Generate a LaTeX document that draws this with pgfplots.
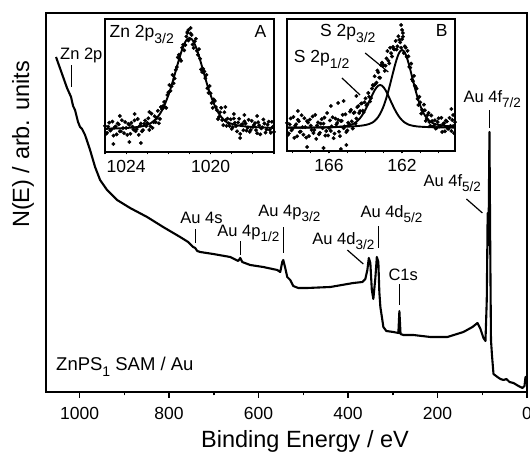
\documentclass[border=0pt]{standalone}
\usepackage{fontspec}
\setmainfont{Liberation Sans}
\usepackage{pgfplots}
\pgfplotsset{compat=1.18}
\newcommand{\fs}[1]{\fontsize{#1}{#1}\selectfont}
\newcommand{\sub}[1]{\raisebox{-5pt}{\fs{13.5}#1}}
\newcommand{\subi}[1]{\raisebox{-5.5pt}{\fs{14}#1}}
\tikzset{ann/.style={anchor=base west, inner sep=0pt, font=\fs{16.5}},
         ptr/.style={line width=1.2pt}}
\begin{document}
\begin{tikzpicture}
\useasboundingbox (-46pt,-62pt) rectangle (484pt,392pt);
% ---------------- main survey spectrum ----------------
\begin{axis}[
  at={(0pt,0pt)}, anchor=south west,
  scale only axis, width=481pt, height=379.3pt,
  x dir=reverse, xmin=0, xmax=1075, ymin=0, ymax=379.3,
  ytick=\empty,
  xtick={0,200,400,600,800,1000},
  minor xtick={100,300,500,700,900},
  xtick pos=bottom, ytick pos=left, tick align=outside,
  major tick length=6pt, minor tick length=3.5pt,
  tick style={black, line width=1.5pt},
  axis line style={line width=1.8pt},
  xticklabel style={font=\fs{17.5}, inner sep=0pt, yshift=-9pt},
  /pgf/number format/assume math mode=true,
  /pgf/number format/1000 sep={},
  clip=false,
]
\addplot[black, line width=2.1pt, line join=round] coordinates {
(1052.6,335)(1039.1,318)(1028.0,304)(1019.0,295)(1014.5,286)(1010.1,282)
(1003.4,270)(998.9,265)(994.4,263)(987.7,257)(976.5,242)(965.3,225)
(954.1,212)(938.5,202)(916.1,192)(887.0,184)(849.0,175)(813.2,165)
(775.2,155)(757.3,150)(746.1,145)(741.6,144)(737.1,141)(730.4,140)
(701.3,138)(663.3,135)(645.4,131)(640.9,134)(636.5,130)(618.6,127)
(589.5,125)(558.2,122)(551.5,120)(547.0,130)(544.7,132)(540.3,124)
(535.8,115)(529.1,112)(522.4,106)(511.2,104)(491.1,104)(439.6,105)
(388.1,109)(368.0,110)(361.3,113)(356.8,122)(353.5,134)(350.1,129)
(346.8,102)(343.4,93)(338.9,114)(335.6,135)(332.2,130)(330.0,100)
(327.7,85)(323.3,72)(321.0,65)(314.3,61)(298.7,60)(287.5,59)
(285.2,81)(282.6,58)(276.3,57)(253.9,57)(215.9,55)(177.9,55)
(142.1,60)(121.9,65)(110.7,69)(104.0,63)(97.3,54)(92.8,51)
(89.9,92)(87.9,179)(86.1,147)(83.9,260)(82.1,142)(80.5,52)
(78.3,37)(74.9,18)(66.0,15)(59.3,13)(52.6,12)(45.9,13)
(39.1,10)(30.2,9)(19.0,6)(10.1,4)(5.6,6)(3.4,15)(0,15)
};
% annotations
\node[ann] at (axis cs:1043.6,332) {Zn 2p};
\draw[ptr] (axis cs:1017.9,305) -- (axis cs:1017.9,327);
\node[ann] at (axis cs:775.2,168) {Au 4s};
\draw[ptr] (axis cs:740.5,149) -- (axis cs:740.5,163);
\node[ann] at (axis cs:692.4,155) {Au 4p\sub{1/2}};
\draw[ptr] (axis cs:640.9,137) -- (axis cs:640.9,151);
\node[ann] at (axis cs:600.7,175) {Au 4p\sub{3/2}};
\draw[ptr] (axis cs:544.7,139) -- (axis cs:544.7,165);
\node[ann] at (axis cs:479.9,147) {Au 4d\sub{3/2}};
\draw[ptr] (axis cs:401.6,142) -- (axis cs:365.8,128);
\node[ann] at (axis cs:372.5,174) {Au 4d\sub{5/2}};
\draw[ptr] (axis cs:331.5,144) -- (axis cs:331.5,166);
\node[ann] at (axis cs:309.8,111) {C1s};
\draw[ptr] (axis cs:284.6,87) -- (axis cs:284.6,108);
\node[ann] at (axis cs:231.5,205) {Au 4f\sub{5/2}};
\draw[ptr] (axis cs:135.3,193) -- (axis cs:99.6,179);
\node[ann] at (axis cs:142.1,289) {Au 4f\sub{7/2}};
\draw[ptr] (axis cs:83.9,264) -- (axis cs:83.9,282);
\node[anchor=base west, inner sep=0pt, font=\fs{18.5}] at (axis cs:1052.6,21) {ZnPS\subi{1} SAM / Au};
\end{axis}
% ---------------- inset A : Zn 2p3/2 ----------------
\begin{axis}[
  at={(59pt,240pt)}, anchor=south west,
  scale only axis, width=169pt, height=133pt,
  x dir=reverse, xmin=1017, xmax=1025, ymin=0, ymax=133,
  ytick=\empty, xtick={1020,1024}, minor xtick={1017,...,1025},
  xtick pos=bottom, ytick pos=left, tick align=outside,
  major tick length=2.5pt, minor tick length=2.5pt,
  tick style={black, line width=1.2pt},
  axis line style={line width=1.5pt},
  axis background/.style={fill=white},
  xticklabel style={font=\fs{17.5}, inner sep=0pt, yshift=-6pt},
  /pgf/number format/assume math mode=true,
  /pgf/number format/1000 sep={},
]
\addplot[only marks, mark=*, mark size=1.75pt, black] coordinates {
(1025.0,26.1)(1024.9,19.2)(1024.8,29.3)(1024.7,22.4)(1024.6,16.4)(1024.5,25.5)
(1024.4,28.6)(1024.3,20.7)(1024.2,31.8)(1024.1,18.9)(1024.0,24.0)(1023.9,28.1)
(1023.8,18.2)(1023.7,25.4)(1023.6,31.6)(1023.5,22.9)(1023.4,17.1)(1023.3,28.5)
(1023.2,21.9)(1023.1,31.5)(1023.0,29.2)(1022.9,22.1)(1022.8,38.3)(1022.7,29.8)
(1022.6,29.8)(1022.5,41.2)(1022.4,33.1)(1022.3,42.8)(1022.2,50.1)(1022.1,44.1)
(1022.0,59.8)(1021.9,61.2)(1021.8,77.1)(1021.7,73.5)(1021.6,84.9)(1021.5,97.3)
(1021.4,91.2)(1021.3,107.2)(1021.2,107.0)(1021.1,119.0)(1021.0,113.0)(1020.9,117.0)
(1020.8,104.0)(1020.7,113.2)(1020.6,97.2)(1020.5,93.3)(1020.4,79.9)(1020.3,80.5)
(1020.2,77.1)(1020.1,59.2)(1020.0,58.8)(1019.9,44.1)(1019.8,51.1)(1019.7,41.8)
(1019.6,35.1)(1019.5,44.2)(1019.4,26.8)(1019.3,31.8)(1019.2,33.3)(1019.1,26.1)
(1019.0,23.2)(1018.9,33.5)(1018.8,25.9)(1018.7,29.5)(1018.6,18.1)(1018.5,27.9)
(1018.4,30.6)(1018.3,21.4)(1018.2,32.2)(1018.1,22.1)(1018.0,25.0)(1017.9,28.9)
(1017.8,18.8)(1017.7,26.7)(1017.6,23.6)(1017.5,32.5)(1017.4,19.4)(1017.3,27.3)
(1017.2,22.2)(1017.1,30.2)(1017.0,20.1)
(1024.95,18.2)(1024.85,25.3)(1024.75,21.4)(1024.65,30.4)(1024.55,24.5)(1024.45,17.6)
(1024.35,27.7)(1024.25,20.8)(1024.15,23.9)(1024.05,30.0)(1023.95,17.1)(1023.85,27.2)
(1023.75,29.3)(1023.65,22.5)(1023.55,20.8)(1023.45,33.0)(1023.35,26.3)(1023.25,20.7)
(1023.15,28.2)(1023.05,25.9)(1022.95,33.7)(1022.85,25.7)(1022.75,24.1)(1022.65,35.8)
(1022.55,34.0)(1022.45,28.7)(1022.35,45.0)(1022.25,46.0)(1022.15,44.6)(1022.05,57.0)
(1021.95,67.0)(1021.85,65.7)(1021.75,68.8)(1021.65,82.2)(1021.55,94.6)(1021.45,92.8)
(1021.35,104.2)(1021.25,101.6)(1021.15,115.5)(1021.05,111.5)(1020.95,118.5)(1020.85,107.5)
(1020.75,110.6)(1020.65,101.2)(1020.55,102.8)(1020.45,82.6)(1020.35,83.2)(1020.25,73.8)
(1020.15,63.7)(1020.05,66.0)(1019.95,49.0)(1019.85,52.6)(1019.75,45.0)(1019.65,33.0)
(1019.55,39.7)(1019.45,32.0)(1019.35,39.8)(1019.25,26.1)(1019.15,28.7)(1019.05,32.7)
(1018.95,24.9)(1018.85,29.2)(1018.75,20.7)(1018.65,33.3)(1018.55,27.0)(1018.45,21.8)
(1018.35,28.5)(1018.25,24.3)(1018.15,20.2)(1018.05,31.1)(1017.95,27.0)(1017.85,21.9)
(1017.75,29.8)(1017.65,17.7)(1017.55,24.6)(1017.45,28.5)(1017.35,22.4)(1017.25,30.3)
(1017.15,19.2)(1017.05,25.2)
(1024.6,8)(1024.3,36)(1023.85,10)(1023.6,38)(1023.3,9)(1022.9,40)(1019.3,45)
(1018.9,38)(1018.4,37)(1018.6,14)(1017.8,36)(1020.95,124)(1021.05,122)(1021.1,120)
};
\addplot[black, line width=1.9pt, smooth] coordinates {
(1025.0,23.1)(1024.5,23.5)(1024.0,24.0)(1023.5,24.9)(1023.2,25.9)(1023.0,27.2)
(1022.8,29.3)(1022.6,32.8)(1022.4,38.1)(1022.2,46.1)(1022.0,56.8)(1021.9,63.2)
(1021.8,70.1)(1021.7,77.5)(1021.6,84.9)(1021.5,92.3)(1021.4,99.2)(1021.3,105.2)
(1021.2,110.0)(1021.1,113.0)(1021.0,114.0)(1020.9,113.0)(1020.8,110.0)(1020.7,105.2)
(1020.6,99.2)(1020.5,92.3)(1020.4,84.9)(1020.3,77.5)(1020.2,70.1)(1020.1,63.2)
(1020.0,56.8)(1019.8,46.1)(1019.6,38.1)(1019.4,32.8)(1019.2,29.3)(1019.0,28.2)
(1018.8,26.9)(1018.5,25.9)(1018.0,25.0)(1017.5,24.5)(1017.0,24.1)
};
\node[anchor=base west, inner sep=0pt, font=\fs{17.5}] at (axis cs:1024.79,114) {Zn 2p\subi{3/2}};
\node[anchor=base, inner sep=0pt, font=\fs{17.5}] at (axis cs:1017.64,114) {A};
\end{axis}
% ---------------- inset B : S 2p ----------------
\begin{axis}[
  at={(241pt,241pt)}, anchor=south west,
  scale only axis, width=168pt, height=132pt,
  x dir=reverse, xmin=159.1, xmax=168.3, ymin=0, ymax=132,
  ytick=\empty, xtick={162,166}, minor xtick={160,...,168},
  xtick pos=bottom, ytick pos=left, tick align=outside,
  major tick length=2.5pt, minor tick length=2.5pt,
  tick style={black, line width=1.2pt},
  axis line style={line width=1.5pt},
  axis background/.style={fill=white},
  xticklabel style={font=\fs{17.5}, inner sep=0pt, yshift=-6pt},
  /pgf/number format/assume math mode=true,
]
\addplot[only marks, mark=*, mark size=1.75pt, black] coordinates {
(168.3,28.1)(168.2,17.6)(168.1,32.6)(168.0,22.1)(167.9,13.1)(167.8,26.7)
(167.7,31.2)(167.6,19.2)(167.5,35.8)(167.4,16.3)(167.3,23.8)(167.2,29.9)
(167.1,14.9)(167.0,25.4)(166.9,34.5)(166.8,21.0)(166.7,12.1)(166.6,28.6)
(166.5,18.2)(166.4,31.8)(166.3,27.3)(166.2,15.4)(166.1,38.0)(166.0,23.0)
(165.9,20.1)(165.8,33.7)(165.7,17.3)(165.6,26.5)(165.5,31.2)(165.4,14.9)
(165.3,30.1)(165.2,22.8)(165.1,36.7)(165.0,20.5)(164.9,27.0)(164.8,41.1)
(164.7,22.5)(164.6,38.6)(164.5,32.4)(164.4,44.8)(164.3,40.0)(164.2,47.7)
(164.1,38.9)(164.0,52.6)(163.9,46.7)(163.8,54.2)(163.7,52.9)(163.6,65.9)
(163.5,74.8)(163.4,68.4)(163.3,78.6)(163.2,73.2)(163.1,88.3)(163.0,85.8)
(162.9,85.3)(162.8,99.9)(162.7,87.6)(162.6,97.8)(162.5,104.1)(162.4,101.6)
(162.3,101.5)(162.2,114.8)(162.1,108.6)(162.0,111.8)(161.9,97.9)(161.8,103.4)
(161.7,100.2)(161.6,84.1)(161.5,87.4)(161.4,69.8)(161.3,65.3)(161.2,62.3)
(161.1,46.0)(161.0,48.6)(160.9,41.1)(160.8,46.3)(160.7,30.2)(160.6,35.9)
(160.5,29.0)(160.4,35.5)(160.3,24.5)(160.2,30.7)(160.1,23.1)(160.0,32.7)
(159.9,25.3)(159.8,19.0)(159.7,27.8)(159.6,30.5)(159.5,22.4)(159.4,33.1)
(159.3,20.0)(159.2,24.9)(159.1,28.8)
(168.25,16.1)(168.15,26.6)(168.05,20.6)(167.95,34.1)(167.85,25.2)(167.75,14.7)
(167.65,29.7)(167.55,19.3)(167.45,23.8)(167.35,32.8)(167.25,13.4)(167.15,28.4)
(167.05,31.4)(166.95,21.0)(166.85,18.0)(166.75,36.1)(166.65,25.6)(166.55,16.7)
(166.45,27.3)(166.35,22.8)(166.25,33.4)(166.15,20.0)(166.05,15.5)(165.95,30.6)
(165.85,24.7)(165.75,12.8)(165.65,32.4)(165.55,28.1)(165.45,19.3)(165.35,30.0)
(165.25,36.2)(165.15,24.5)(165.05,18.9)(164.95,28.3)(164.85,39.3)(164.75,29.6)
(164.65,38.1)(164.55,27.3)(164.45,43.9)(164.35,37.9)(164.25,47.4)(164.15,40.3)
(164.05,48.8)(163.95,45.7)(163.85,58.0)(163.75,49.6)(163.65,62.4)(163.55,65.4)
(163.45,67.1)(163.35,80.5)(163.25,73.4)(163.15,85.8)(163.05,85.6)(162.95,80.1)
(162.85,92.6)(162.75,90.3)(162.65,103.2)(162.55,94.5)(162.45,101.9)(162.35,110.1)
(162.25,104.7)(162.15,111.2)(162.05,103.2)(161.95,114.4)(161.85,104.7)(161.75,94.3)
(161.65,94.7)(161.55,83.3)(161.45,71.6)(161.35,75.1)(161.25,63.8)(161.15,52.2)
(161.05,54.3)(160.95,37.4)(160.85,40.2)(160.75,40.8)(160.65,32.1)(160.55,38.0)
(160.45,25.3)(160.35,30.0)(160.25,25.1)(160.15,22.4)(160.05,28.9)(159.95,24.5)
(159.85,33.2)(159.75,26.9)(159.65,19.7)(159.55,29.5)(159.45,22.3)(159.35,25.1)
(159.25,31.0)(159.15,17.9)
(166.3,3)(165.9,45)(165.5,48)(165.35,2)(165.2,50)(165.05,6)(162.05,126)
(162.0,121)(161.95,118)(159.3,42)(159.2,36)(167.7,40)(167.2,4)(164.5,55)
};
\addplot[black, line width=1.9pt, smooth] coordinates {
(168.3,23.3)(167.0,23.5)(166.0,23.7)(165.5,24.0)(165.0,24.3)(164.6,24.7)
(164.2,25.4)(164.0,26.0)(163.8,27.0)(163.6,28.7)(163.5,30.1)(163.4,31.9)
(163.3,34.2)(163.2,37.2)(163.1,40.9)(163.0,45.3)(162.9,50.6)(162.8,56.7)
(162.7,63.4)(162.6,70.6)(162.5,77.8)(162.4,85.0)(162.3,91.3)(162.2,96.5)
(162.1,99.8)(162.0,101.0)(161.9,99.8)(161.8,96.5)(161.7,91.3)(161.6,85.0)
(161.5,77.8)(161.4,70.6)(161.3,63.4)(161.2,56.7)(161.1,50.6)(161.0,45.3)
(160.9,40.9)(160.8,37.2)(160.7,34.2)(160.6,31.9)(160.5,30.1)(160.4,28.7)
(160.2,27.0)(160.0,26.0)(159.6,25.0)(159.1,24.4)
};
\addplot[black, line width=1.9pt, smooth] coordinates {
(168.3,23.3)(167.0,23.4)(166.0,23.8)(165.5,24.2)(165.2,24.6)(165.0,25.2)
(164.8,26.1)(164.7,26.9)(164.6,27.9)(164.5,29.1)(164.4,30.8)(164.3,32.8)
(164.2,35.3)(164.1,38.2)(164.0,41.6)(163.9,45.3)(163.8,49.2)(163.7,53.2)
(163.6,57.2)(163.5,60.7)(163.4,63.5)(163.3,65.4)(163.2,66.0)(163.1,65.4)
(163.0,63.5)(162.9,60.7)(162.8,57.2)(162.7,53.2)(162.6,49.2)(162.5,45.3)
(162.4,41.6)(162.3,38.2)(162.2,35.3)(162.1,32.8)(162.0,30.8)(161.9,29.1)
(161.8,27.9)(161.7,26.9)(161.6,26.1)(161.4,25.2)(161.2,24.6)(160.9,24.2)
(160.4,23.8)(159.9,23.6)(159.1,23.4)
};
\node[anchor=base west, inner sep=0pt, font=\fs{17.5}] at (axis cs:166.5,114) {S 2p\subi{3/2}};
\node[anchor=base west, inner sep=0pt, font=\fs{17.5}] at (axis cs:167.93,88) {S 2p\subi{1/2}};
\draw[ptr] (axis cs:164.02,98) -- (axis cs:162.75,79);
\draw[ptr] (axis cs:165.29,73) -- (axis cs:164.3,56);
\node[anchor=base, inner sep=0pt, font=\fs{17.5}] at (axis cs:159.83,114) {B};
\end{axis}
% axis labels
\node[rotate=90, inner sep=0pt, font=\fs{23.5}] at (-23pt,247.5pt) {N(E) / arb. units};
\node[anchor=base, inner sep=0pt, font=\fs{23.5}] at (259pt,-56pt) {Binding Energy / eV};
\end{tikzpicture}
\end{document}
